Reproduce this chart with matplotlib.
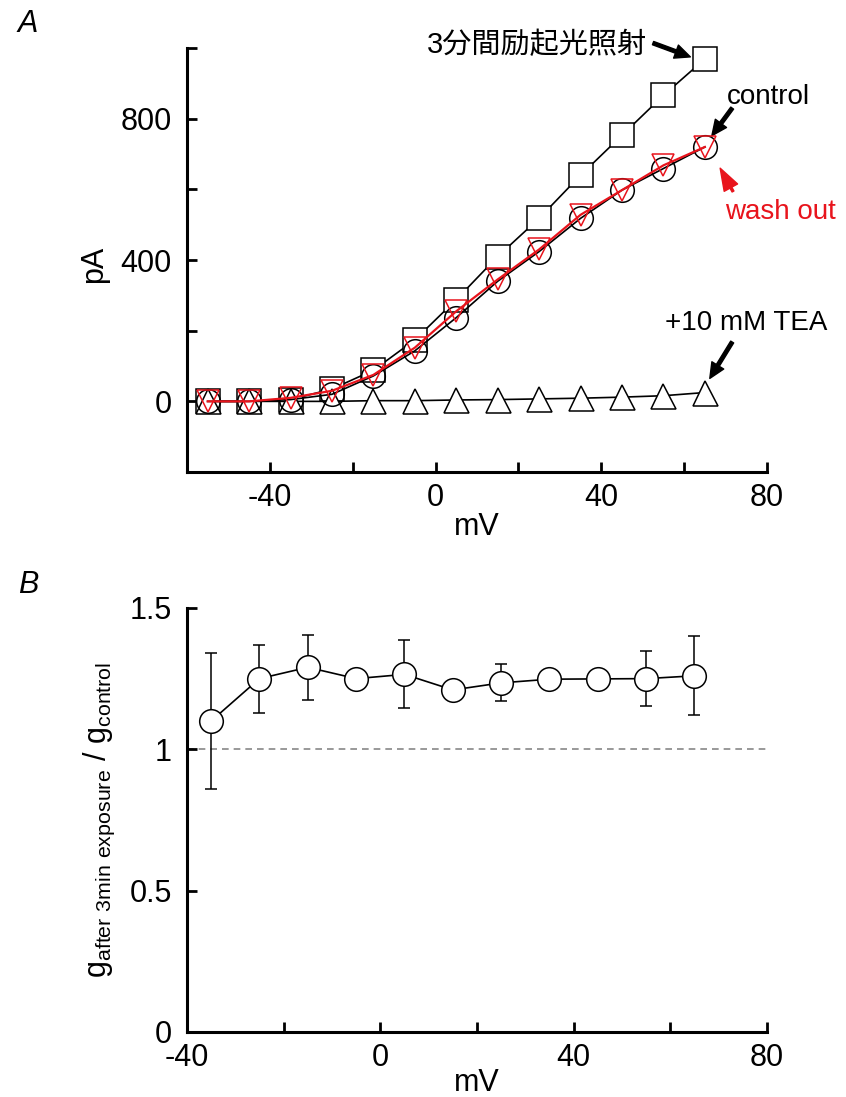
import matplotlib
matplotlib.use("Agg")
from matplotlib import pyplot as plt

plt.rcParams['font.family'] = ['Liberation Sans', 'Noto Sans CJK JP', 'DejaVu Sans']
plt.rcParams['mathtext.fontset'] = 'custom'
plt.rcParams['mathtext.rm'] = 'Liberation Sans'
plt.rcParams['axes.unicode_minus'] = False

# voltage steps (mV)
mv_iv = [-55, -45, -35, -25, -15, -5, 5, 15, 25, 35, 45, 55, 65]

# steady-state currents (pA)
pa_exposed = [0, 0, 5, 35, 88, 174, 288, 410, 518, 640, 753, 866, 969]
pa_control = [0, 0, 5, 20, 72, 143, 237, 340, 424, 518, 598, 659, 720]
pa_washout = [0, 0, 10, 30, 75, 152, 255, 345, 430, 528, 598, 668, 720]
pa_tea = [0, 0, 0, 0, 2, 2, 4, 5, 7, 9, 12, 16, 25]

# conductance ratio after / before exposure
mv_ratio = [-35, -25, -15, -5, 5, 15, 25, 35, 45, 55, 65]
g_ratio = [1.10, 1.25, 1.29, 1.25, 1.265, 1.21, 1.235, 1.248, 1.249, 1.25, 1.26]
g_err = [0.24, 0.12, 0.116, 0.02, 0.12, 0.02, 0.065, 0.02, 0.02, 0.098, 0.14]

FS = 22
FS_NOTE = 20
RED = '#e8141c'


def style_axis(ax):
    for s in ['top', 'right']:
        ax.spines[s].set_visible(False)
    for s in ['left', 'bottom']:
        ax.spines[s].set_linewidth(2.2)
    ax.tick_params(which='both', direction='in', length=7, width=2, labelsize=FS)
    ax.tick_params(axis='y', which='both', pad=11)
    ax.tick_params(axis='x', which='both', pad=8)


fig = plt.figure(figsize=(8.46, 10.97), dpi=100)

# ---------------- A: I-V curves ----------------
ax = fig.add_axes([0.2210, 0.5697, 0.6856, 0.3865])
style_axis(ax)

ax.plot(mv_iv, pa_exposed, color='black', lw=1.2, marker='s', ms=17,
        mfc='white', mec='black', mew=1.1, zorder=2, clip_on=False)
ax.plot(mv_iv, pa_tea, color='black', lw=1.2, marker='^', ms=18,
        mfc='white', mec='black', mew=1.1, zorder=3, clip_on=False)
ax.plot(mv_iv, pa_control, color='black', lw=1.2, marker='o', ms=17,
        mfc='none', mec='black', mew=1.1, zorder=4, clip_on=False)
ax.plot(mv_iv, pa_washout, color=RED, lw=1.6, marker='v', ms=16,
        mfc='none', mec=RED, mew=1.1, zorder=5, clip_on=False)

ax.set_xlim(-60, 80)
ax.set_ylim(-200, 1000)
ax.set_xticks([-40, 0, 40, 80])
ax.set_xticks([-20, 20, 60], minor=True)
ax.set_yticks([0, 400, 800])
ax.set_yticks([200, 600, 1000], minor=True)
ax.set_xlabel('mV', fontsize=FS, labelpad=-1)
ax.set_ylabel('pA', fontsize=FS)
ax.yaxis.set_label_coords(-0.135, 0.49)

arrow_k = dict(facecolor='black', edgecolor='black', width=2.5, headwidth=10,
               headlength=11, shrink=0)
arrow_r = dict(facecolor=RED, edgecolor=RED, width=1.5, headwidth=11,
               headlength=16, shrink=0)

ax.text(24.5, 1008, '3分間励起光照射', fontsize=21, ha='center', va='center',
        clip_on=False)
ax.annotate('', xy=(61.5, 975), xytext=(52.5, 1014), arrowprops=arrow_k,
            annotation_clip=False)

ax.text(70.3, 861, 'control', fontsize=FS_NOTE, ha='left', va='center', clip_on=False)
ax.annotate('', xy=(66.7, 752), xytext=(71.6, 830), arrowprops=arrow_k,
            annotation_clip=False)

ax.text(69.9, 536, 'wash out', fontsize=FS_NOTE, color=RED, ha='left',
        va='center', clip_on=False)
ax.annotate('', xy=(68.7, 660), xytext=(71.8, 594), arrowprops=arrow_r,
            annotation_clip=False)

ax.text(55.4, 222, '+10 mM TEA', fontsize=FS_NOTE, ha='left', va='center',
        clip_on=False)
ax.annotate('', xy=(66.2, 65), xytext=(71.6, 168), arrowprops=arrow_k,
            annotation_clip=False)

fig.text(0.033, 0.978, 'A', fontsize=FS, style='italic', ha='center', va='center')

# ---------------- B: conductance ratio ----------------
bx = fig.add_axes([0.2210, 0.0593, 0.6856, 0.3865])
style_axis(bx)

bx.axhline(1.0, color='#888888', lw=1.2, ls=(0, (4, 3)), zorder=1)
bx.errorbar(mv_ratio, g_ratio, yerr=g_err, color='black', lw=1.2,
            elinewidth=1.1, capsize=4, capthick=1.1, marker='o', ms=17,
            mfc='white', mec='black', mew=1.1, zorder=3)

bx.set_xlim(-40, 80)
bx.set_ylim(0, 1.5)
bx.set_xticks([-40, 0, 40, 80])
bx.set_xticks([-20, 20, 60], minor=True)
bx.set_yticks([0, 0.5, 1, 1.5])
bx.set_yticklabels(['0', '0.5', '1', '1.5'])
bx.set_xlabel('mV', fontsize=FS, labelpad=-4)
bx.set_ylabel(r'$\mathrm{g_{after\ 3min\ exposure}}$ / $\mathrm{g_{control}}$',
              fontsize=FS)
bx.yaxis.set_label_coords(-0.121, 0.5)

fig.text(0.033, 0.467, 'B', fontsize=FS, style='italic', ha='center', va='center')

fig.savefig('out.png', dpi=100)
